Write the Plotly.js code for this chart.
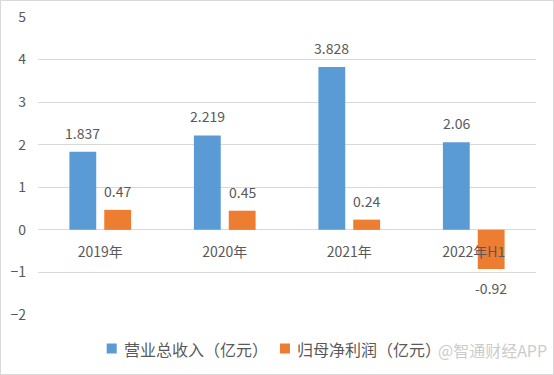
<!DOCTYPE html>
<html><head><meta charset="utf-8">
<script src="https://cdn.plot.ly/plotly-3.0.1.min.js"></script>
<style>
body{margin:0;background:#fff;}
#wrap{position:relative;width:554px;height:375px;}
#chart{position:absolute;left:0;top:0;width:554px;height:375px;}
#frame{position:absolute;left:0;top:0;width:552px;height:373px;border:1px solid #d9d9d9;pointer-events:none;}
</style></head>
<body><div id="wrap"><div id="chart"></div><div id="frame"></div></div>
<script>
const categories = ['2019年','2020年','2021年','2022年H1'];
const revenue = [1.837, 2.219, 3.828, 2.06];
const netProfit = [0.47, 0.45, 0.24, -0.92];
const revenueLabels = ['1.837','2.219','3.828','2.06'];
const profitLabels = ['0.47','0.45','0.24','-0.92'];
const seriesNames = ['营业总收入（亿元）','归母净利润（亿元）'];
const seriesColors = ['#5B9BD5','#ED7D31'];
const yTicks = [-2,-1,0,1,2,3,4,5];

const FONT = '"Noto Sans CJK SC", "Liberation Sans", sans-serif';
const TXT = '#595959';

const traces = [
  {type:'bar', name:seriesNames[0], x:categories, y:revenue, marker:{color:seriesColors[0]}, hoverinfo:'none'},
  {type:'bar', name:seriesNames[1], x:categories, y:netProfit, marker:{color:seriesColors[1]}, hoverinfo:'none'}
];

const annotations = [];
const shapes = [];
categories.forEach((c,i)=>{
  annotations.push({x:c, y:revenue[i], xref:'x', yref:'y', text:revenueLabels[i], showarrow:false,
    xshift:-17.5, yshift:revenue[i]>=0?19:-19, font:{size:14, color:TXT, family:FONT}});
  annotations.push({x:c, y:netProfit[i], xref:'x', yref:'y', text:profitLabels[i], showarrow:false,
    xshift:17.5, yshift:netProfit[i]>=0?19:-19, font:{size:14, color:TXT, family:FONT}});
});

// custom legend (plot area: left 38px, width 498px; bottom 315px, height 298px)
const px = v => (v-38)/498;
const py = v => (315-v)/298;
const legendSquares = [106.7, 280];
const legendTexts = [122, 295];
seriesNames.forEach((n,i)=>{
  shapes.push({type:'rect', xref:'paper', yref:'paper', xsizemode:'pixel', ysizemode:'pixel',
    xanchor:px(legendSquares[i]), yanchor:py(348.5), x0:0, x1:10, y0:-5, y1:5,
    fillcolor:seriesColors[i], line:{width:0}});
  annotations.push({xref:'paper', yref:'paper', x:px(legendTexts[i]), y:py(348.5), xanchor:'left', yanchor:'middle',
    text:n, showarrow:false, font:{size:16, color:TXT, family:FONT}});
});
annotations.push({xref:'paper', yref:'paper', x:px(549), y:py(350), xanchor:'right', yanchor:'middle',
  text:'@智通财经APP', showarrow:false, font:{size:16, color:'#cccccc', family:FONT}});

const layout = {
  width:554, height:375,
  margin:{l:38, r:18, t:17, b:60},
  paper_bgcolor:'#fff', plot_bgcolor:'#fff',
  font:{family:FONT, color:TXT, size:14},
  barmode:'group', bargap:0.44, bargroupgap:0.23,
  showlegend:false,
  xaxis:{type:'category', anchor:'free', position:2/7, showgrid:false, showline:false,
    ticks:'', tickfont:{size:14, color:TXT}, ticklabelstandoff:12, zeroline:false},
  yaxis:{range:[-2,5], tickvals:yTicks, showgrid:true, gridcolor:'#d9d9d9', gridwidth:1,
    zeroline:true, zerolinecolor:'#d9d9d9', zerolinewidth:1, showline:false, ticks:'',
    tickfont:{size:14, color:TXT}, ticklabelstandoff:11, fixedrange:true},
  shapes:shapes,
  annotations:annotations
};
Plotly.newPlot('chart', traces, layout, {displayModeBar:false, staticPlot:true});
</script></body></html>
